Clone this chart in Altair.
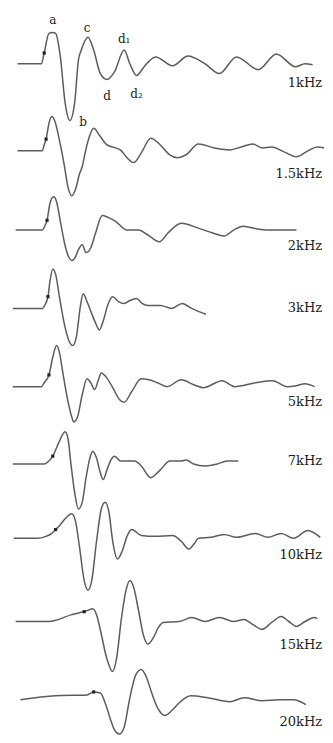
import altair as alt
import pandas as pd

# trace names, baselines (level units, downward) and right-hand labels
traces = ["1kHz", "1.5kHz", "2kHz", "3kHz", "5kHz", "7kHz", "10kHz", "15kHz", "20kHz"]
label_level = [77, 170, 243, 307, 403, 463, 559, 651, 730]

t_1 = [10, 35, 38, 43, 47, 50, 55, 60, 65, 70, 74, 77, 84, 90, 97, 104, 112, 122, 128, 135, 143, 155, 173, 189, 207, 222, 240, 263, 282, 302, 312, 320]
y_1 = [57, 57, 46, 26, 25, 26, 50, 97, 115, 97, 53, 43, 30, 43, 67, 73, 65, 43, 57, 69, 60, 50, 59, 49, 57, 67, 50, 63, 47, 60, 57, 58]

t_2 = [10, 36, 38, 40, 43, 46, 49, 54, 59, 63, 67, 71, 75, 78, 81, 86, 90, 96, 104, 113, 118, 125, 132, 140, 150, 160, 170, 178, 187, 200, 217, 233, 245, 257, 267, 277, 290, 303, 315, 325, 332]
y_2 = [146, 146, 140, 134, 118, 111, 115, 135, 160, 183, 192, 185, 170, 162, 148, 130, 123, 130, 140, 143, 145, 153, 158, 148, 133, 140, 150, 153, 150, 139, 143, 145, 142, 139, 143, 142, 147, 152, 146, 142, 143]

t_3 = [8, 36, 39, 41, 44, 48, 51, 55, 60, 64, 67, 71, 74, 78, 82, 87, 92, 99, 105, 113, 125, 137, 147, 159, 168, 182, 200, 215, 227, 237, 247, 263, 280, 303]
y_3 = [227, 227, 222, 217, 200, 193, 198, 218, 243, 255, 258, 254, 247, 242, 250, 245, 230, 212, 214, 218, 227, 227, 232, 239, 230, 220, 225, 230, 233, 227, 223, 226, 227, 227]

t_4 = [5, 36, 39, 42, 44, 47, 50, 54, 59, 64, 68, 72, 76, 79, 83, 87, 92, 96, 100, 105, 110, 116, 122, 128, 135, 141, 147, 160, 172, 183, 193, 200, 208]
y_4 = [307, 307, 303, 295, 280, 267, 272, 295, 322, 340, 345, 335, 305, 292, 300, 310, 322, 329, 320, 303, 295, 300, 302, 299, 297, 302, 304, 304, 307, 302, 307, 310, 313]

t_5 = [5, 35, 38, 43, 47, 51, 54, 58, 63, 67, 69, 73, 78, 83, 87, 91, 95, 98, 103, 110, 117, 122, 130, 140, 148, 157, 167, 182, 195, 205, 225, 238, 260, 278, 293, 303, 312, 322]
y_5 = [387, 387, 383, 375, 357, 345, 352, 375, 402, 418, 423, 418, 395, 379, 383, 390, 380, 373, 377, 388, 400, 403, 392, 379, 380, 383, 387, 380, 385, 388, 381, 387, 383, 381, 387, 386, 384, 387]

t_6 = [5, 38, 43, 47, 53, 60, 63, 66, 70, 74, 78, 82, 86, 89, 93, 97, 100, 104, 108, 112, 118, 126, 133, 140, 150, 160, 170, 182, 187, 195, 207, 220, 230, 242]
y_6 = [466, 466, 463, 458, 445, 433, 440, 465, 495, 512, 505, 480, 460, 453, 460, 475, 482, 472, 462, 458, 463, 463, 463, 468, 480, 472, 463, 463, 462, 466, 468, 466, 463, 463]

t_7 = [6, 30, 40, 46, 50, 55, 60, 67, 71, 75, 80, 84, 88, 93, 98, 102, 106, 110, 115, 120, 125, 130, 140, 155, 173, 182, 190, 196, 200, 213, 227, 240, 250, 260, 273, 287, 300, 315, 328]
y_7 = [542, 542, 540, 537, 533, 528, 522, 517, 525, 550, 585, 595, 585, 545, 512, 505, 515, 545, 563, 555, 540, 533, 539, 540, 539, 545, 553, 547, 542, 541, 538, 541, 539, 537, 541, 537, 542, 534, 541]

t_8 = [8, 43, 67, 75, 80, 89, 93, 98, 103, 110, 114, 119, 124, 128, 132, 137, 142, 147, 153, 158, 163, 180, 193, 207, 222, 237, 248, 257, 267, 277, 287, 295, 303, 312, 322, 325]
y_8 = [627, 627, 620, 618, 617, 614, 620, 640, 662, 678, 665, 625, 595, 585, 592, 615, 640, 650, 643, 633, 628, 627, 623, 627, 623, 627, 625, 630, 635, 628, 622, 627, 632, 627, 623, 624]

t_9 = [13, 50, 83, 90, 97, 102, 107, 112, 117, 122, 128, 134, 140, 145, 151, 157, 165, 172, 180, 192, 210, 233, 248, 267, 285, 300, 313]
y_9 = [707, 703, 702, 699, 700, 710, 725, 738, 742, 735, 705, 682, 676, 683, 700, 715, 723, 718, 710, 703, 705, 709, 705, 708, 707, 707, 712]

# stimulus-onset markers on each trace
mark_t = [38, 40, 41, 42, 43, 47, 50, 80, 90]
mark_y = [46, 134, 217, 295, 375, 458, 533, 617, 699]

# component letters on the 1 kHz trace
comp_text = ["a", "c", "d\u2081", "d", "d\u2082", "b"]
comp_t = [47, 83, 122, 104, 135, 79]
comp_y = [12, 20, 32, 90, 88, 116]

series_t = [t_1, t_2, t_3, t_4, t_5, t_6, t_7, t_8, t_9]
series_y = [y_1, y_2, y_3, y_4, y_5, y_6, y_7, y_8, y_9]

rows = []
for name, ts, ys in zip(traces, series_t, series_y):
    for i, (t, y) in enumerate(zip(ts, ys)):
        rows.append({"trace": name, "i": i, "t": t, "y": y})
wave = pd.DataFrame(rows)

marks = pd.DataFrame({"t": mark_t, "y": mark_y})
labels = pd.DataFrame({"text": traces, "t": [330] * len(traces), "y": label_level})
comps = pd.DataFrame({"text": comp_text, "t": comp_t, "y": comp_y})

xs = alt.Scale(domain=[0, 333], nice=False, zero=False)
ys = alt.Scale(domain=[0, 743], reverse=True, nice=False, zero=False)
X = alt.X("t:Q", scale=xs, axis=None)
Y = alt.Y("y:Q", scale=ys, axis=None)

lines = alt.Chart(wave).mark_line(
    interpolate="monotone", color="#5c5c5c", strokeWidth=1.5
).encode(x=X, y=Y, detail="trace:N", order="i:Q")

dots = alt.Chart(marks).mark_point(
    shape="square", filled=True, size=10, color="#222222", opacity=1
).encode(x=X, y=Y)

lab = alt.Chart(labels).mark_text(
    align="right", baseline="middle", font="DejaVu Serif", fontSize=13, color="#222222"
).encode(x=X, y=Y, text="text:N")

cl = alt.Chart(comps).mark_text(
    align="center", baseline="middle", font="DejaVu Serif", fontSize=12, color="#222222"
).encode(x=X, y=Y, text="text:N")

chart = alt.layer(lines, dots, lab, cl).properties(
    width=317, height=727,
    autosize=alt.AutoSizeParams(type="none"),
    padding=0,
    view=alt.ViewBackground(stroke="transparent", strokeWidth=0, strokeOpacity=0),
).configure_view(stroke="transparent", strokeWidth=0, strokeOpacity=0).configure(background="white")

chart.save("out.html", embed_options={"renderer": "svg", "actions": False})
